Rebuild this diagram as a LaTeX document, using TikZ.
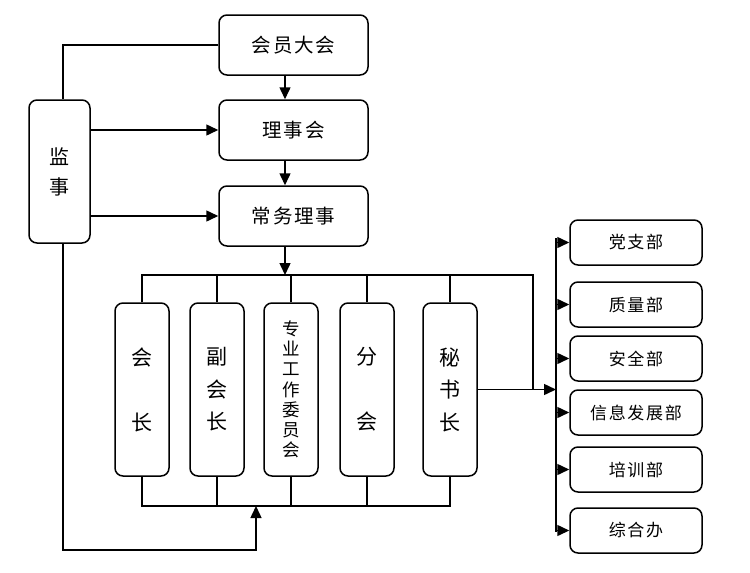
\documentclass[tikz,border=0pt]{standalone}
\usepackage{fontspec}
\newfontfamily\cjk{Noto Sans CJK SC}
\newfontfamily\cjkls{Noto Sans CJK SC}[LetterSpace=10]
\usetikzlibrary{arrows.meta}
\begin{document}
\begin{tikzpicture}[x=1pt,y=-1pt, line width=1.5pt,
 box/.style={draw, rounded corners=8pt, inner sep=0pt},
 hbox/.style={box, minimum width=149pt, minimum height=60pt, font=\cjkls\fontsize{19.5}{22}\selectfont},
 vbox/.style={box, minimum width=54pt, minimum height=173pt, align=center},
 dbox/.style={box, minimum width=132pt, minimum height=45pt, font=\cjkls\fontsize{17}{19}\selectfont},
 arr/.style={-{Triangle[length=12pt,width=11pt]}}]
\fill[white] (0,0) rectangle (750,573);
\useasboundingbox (0,0) rectangle (750,573);
% main column
\node[hbox] (hy) at (293.5,45) {会员大会};
\node[hbox] (lsh) at (293.5,130) {理事会};
\node[hbox] (cw) at (293.5,216) {常务理事};
\node[box, minimum width=61pt, minimum height=143pt, align=center, font=\cjk\fontsize{20}{30}\selectfont] (js) at (59.5,171.5) {监\\事};
% vertical boxes
\node[vbox, font=\cjk\fontsize{21}{65}\selectfont] (hz) at (142,389.5) {会\\长};
\node[vbox, font=\cjk\fontsize{21}{32.5}\selectfont] (fhz) at (217,389.5) {副\\会\\长};
\node[vbox, font=\cjk\fontsize{17.5}{20.2}\selectfont] (zy) at (291,389.5) {专\\业\\工\\作\\委\\员\\会};
\node[vbox, font=\cjk\fontsize{21}{65}\selectfont] (fh) at (367,389.5) {分\\会};
\node[vbox, font=\cjk\fontsize{21}{32.5}\selectfont] (msz) at (450,389.5) {秘\\书\\长};
% departments
\node[dbox] (dzb) at (636,242.5) {党支部};
\node[dbox] (zlb) at (636,304.5) {质量部};
\node[dbox] (aqb) at (636,358.5) {安全部};
\node[dbox] (xxb) at (636,412.5) {信息发展部};
\node[dbox] (pxb) at (636,469.5) {培训部};
\node[dbox] (zhb) at (636,530.5) {综合办};
% helper coordinates
\coordinate (c) at (285,0);
\coordinate (jx) at (63,0);
\coordinate (tbR) at (533,275);
\coordinate (bb) at (0,506);
\coordinate (lp) at (256,550);
\coordinate (rt) at (556,238);
\coordinate (rb) at (556,532);
% main arrows
\draw[arr] (hy.south -| c) -- (lsh.north -| c);
\draw[arr] (lsh.south -| c) -- (cw.north -| c);
\draw[arr] (cw.south -| c) -- (c |- tbR);
% supervisor links
\draw (hy.west) -- (hy.west -| jx) -- (js.north -| jx);
\draw[arr] (js.east |- lsh.west) -- (lsh.west);
\draw[arr] (js.east |- cw.west) -- (cw.west);
\draw[arr] (js.south -| jx) -- (jx |- lp) -- (lp) -- (lp |- bb);
% top bus
\draw (hz.north) -- (hz.north |- tbR) -- (tbR) -- (tbR |- msz.east);
\draw (fhz.north) -- (fhz.north |- tbR);
\draw (zy.north) -- (zy.north |- tbR);
\draw (fh.north) -- (fh.north |- tbR);
\draw (msz.north) -- (msz.north |- tbR);
% bottom bus
\draw (hz.south) -- (hz.south |- bb) -- (msz.south |- bb) -- (msz.south);
\draw (fhz.south) -- (fhz.south |- bb);
\draw (zy.south) -- (zy.south |- bb);
\draw (fh.south) -- (fh.south |- bb);
% to departments
\draw[arr] (msz.east) -- (msz.east -| rt);
\draw (rt) -- (rb);
\draw[arr] (dzb.west -| rt) -- (dzb.west);
\draw[arr] (zlb.west -| rt) -- (zlb.west);
\draw[arr] (aqb.west -| rt) -- (aqb.west);
\draw[arr] (xxb.west -| rt) -- (xxb.west);
\draw[arr] (pxb.west -| rt) -- (pxb.west);
\draw[arr] (zhb.west -| rt) -- (zhb.west);
\end{tikzpicture}
\end{document}
